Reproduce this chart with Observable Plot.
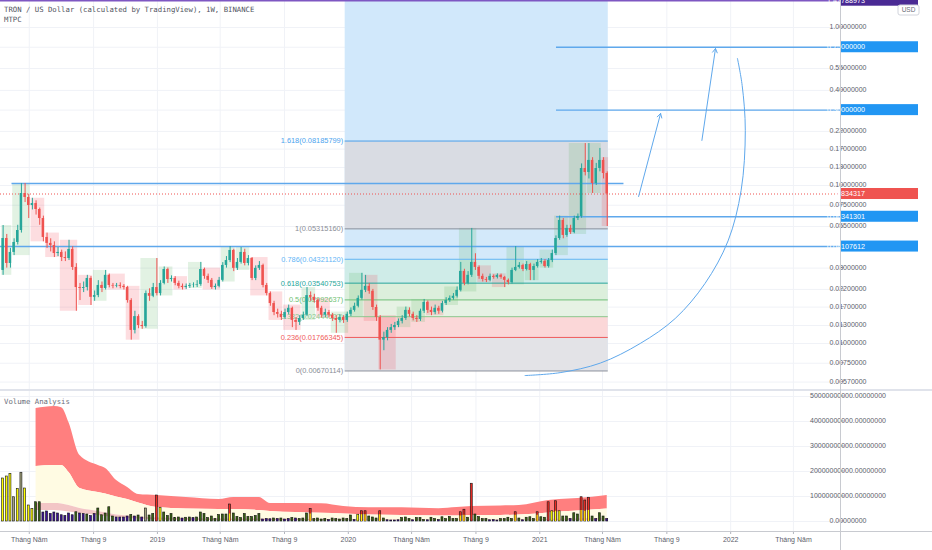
<!DOCTYPE html>
<html><head><meta charset="utf-8">
<script src="https://cdn.jsdelivr.net/npm/d3@7"></script>
<script src="https://cdn.jsdelivr.net/npm/@observablehq/plot@0.6"></script>
<style>
body{margin:0;background:#fff;}
#wrap{position:relative;width:932px;height:550px;overflow:hidden;background:#fff;}
.pane{position:absolute;left:0;}
.lbl{position:absolute;left:4px;font-family:"DejaVu Sans Mono",monospace;font-size:7.3px;color:#50535e;white-space:nowrap;line-height:9px;z-index:5;}
.line{position:absolute;background:#c8cad0;z-index:4;}
</style></head><body>
<div id="wrap">
  <div id="price" class="pane" style="top:0"></div>
  <div id="vol" class="pane" style="top:390px"></div>
  <div class="line" style="left:0;top:389px;width:932px;height:2px;background:#e0e3eb"></div>
  <div class="line" style="left:840px;top:0;width:1px;height:550px"></div>
  <div class="line" style="left:0;top:531px;width:932px;height:1px"></div>
  <div class="lbl" style="top:5px">TRON / US Dollar (calculated by TradingView), 1W, BINANCE</div>
  <div class="lbl" style="top:15px">MTPC</div>
  <div class="lbl" style="top:397px;color:#6a6d78">Volume Analysis</div>
</div>
<script>
// ---------- data ----------
const firstWeek = "2018-03-12";
const firstOpen = 0.0290;
const closes = [
0.0462,0.0321,0.0377,0.0436,0.0519,0.0890,0.0840,0.0747,0.0769,0.0705,
0.0618,0.0469,0.0430,0.0417,0.0371,0.0377,0.0350,0.0345,0.0394,0.0303,
0.0226,0.0223,0.0226,0.0258,0.0196,0.0201,0.0233,0.0223,0.0270,0.0233,
0.0231,0.0233,0.0230,0.0226,0.0187,0.0121,0.0148,0.0130,0.0128,0.0207,
0.0199,0.0226,0.0207,0.0240,0.0294,0.0254,0.0258,0.0240,0.0230,0.0226,
0.0230,0.0233,0.0234,0.0236,0.0294,0.0266,0.0251,0.0226,0.0230,0.0251,
0.0312,0.0335,0.0388,0.0299,0.0326,0.0377,0.0321,0.0345,0.0258,0.0299,
0.0312,0.0233,0.0207,0.0179,0.0157,0.0153,0.0146,0.0157,0.0167,0.0140,
0.0136,0.0144,0.0151,0.0201,0.0196,0.0187,0.0167,0.0151,0.0157,0.0151,
0.0144,0.0140,0.0146,0.0140,0.0153,0.0162,0.0172,0.0193,0.0217,0.0230,
0.0214,0.0169,0.0146,0.0105,0.0109,0.0121,0.0126,0.0130,0.0138,0.0144,
0.0162,0.0153,0.0144,0.0142,0.0160,0.0182,0.0162,0.0157,0.0167,0.0160,
0.0179,0.0187,0.0193,0.0199,0.0217,0.0286,0.0240,0.0270,0.0326,0.0303,
0.0266,0.0254,0.0251,0.0266,0.0262,0.0270,0.0262,0.0251,0.0243,0.0290,
0.0303,0.0312,0.0294,0.0316,0.0290,0.0307,0.0326,0.0331,0.0307,0.0335,
0.0371,0.0462,0.0601,0.0483,0.0535,0.0504,0.0618,0.0637,0.1281,0.1209,
0.1441,0.1030,0.1281,0.1441,0.1191,0.08834317];
const highs = [
0.0558,0.0490,0.0400,0.0460,0.0560,0.1030,0.1030,0.0880,0.0830,0.0800,
0.0720,0.0640,0.0500,0.0460,0.0440,0.0405,0.0390,0.0380,0.0450,0.0410,
0.0320,0.0240,0.0245,0.0270,0.0265,0.0215,0.0250,0.0245,0.0290,0.0275,
0.0240,0.0240,0.0242,0.0236,0.0230,0.0192,0.0160,0.0152,0.0138,0.0215,
0.0222,0.0240,0.0345,0.0250,0.0305,0.0300,0.0268,0.0265,0.0248,0.0238,
0.0238,0.0240,0.0242,0.0250,0.0326,0.0300,0.0275,0.0258,0.0238,0.0262,
0.0325,0.0355,0.0411,0.0395,0.0345,0.0405,0.0395,0.0360,0.0350,0.0310,
0.0330,0.0318,0.0240,0.0212,0.0185,0.0165,0.0160,0.0165,0.0175,0.0170,
0.0146,0.0150,0.0158,0.0226,0.0212,0.0205,0.0192,0.0172,0.0165,0.0162,
0.0155,0.0150,0.0152,0.0150,0.0158,0.0168,0.0180,0.0200,0.0278,0.0270,
0.0240,0.0220,0.0175,0.0150,0.0118,0.0126,0.0132,0.0136,0.0143,0.0150,
0.0170,0.0168,0.0158,0.0150,0.0165,0.0190,0.0186,0.0170,0.0175,0.0172,
0.0185,0.0195,0.0200,0.0207,0.0228,0.0326,0.0295,0.0285,0.0535,0.0370,
0.0310,0.0275,0.0262,0.0275,0.0272,0.0276,0.0275,0.0266,0.0256,0.0300,
0.0411,0.0325,0.0318,0.0330,0.0322,0.0318,0.0340,0.0345,0.0340,0.0345,
0.0390,0.0480,0.0640,0.0618,0.0560,0.0560,0.0640,0.0660,0.1370,0.1843,
0.1843,0.1500,0.1380,0.1716,0.1500,0.1220];
const lows = [
0.0270,0.0300,0.0300,0.0360,0.0420,0.0500,0.0780,0.0618,0.0700,0.0650,
0.0560,0.0440,0.0400,0.0380,0.0350,0.0355,0.0330,0.0330,0.0335,0.0290,
0.0160,0.0187,0.0210,0.0215,0.0174,0.0185,0.0195,0.0210,0.0218,0.0225,
0.0222,0.0225,0.0222,0.0218,0.0180,0.0105,0.0115,0.0124,0.0123,0.0125,
0.0185,0.0195,0.0200,0.0200,0.0235,0.0240,0.0245,0.0232,0.0222,0.0218,
0.0220,0.0223,0.0225,0.0226,0.0230,0.0255,0.0240,0.0220,0.0218,0.0225,
0.0245,0.0300,0.0325,0.0285,0.0290,0.0318,0.0310,0.0310,0.0250,0.0250,
0.0290,0.0225,0.0200,0.0172,0.0150,0.0145,0.0140,0.0142,0.0152,0.0126,
0.0121,0.0130,0.0140,0.0148,0.0185,0.0180,0.0160,0.0145,0.0146,0.0145,
0.0138,0.0116,0.0135,0.0134,0.0136,0.0148,0.0158,0.0168,0.0188,0.0210,
0.0205,0.0162,0.0138,0.0068,0.0090,0.0104,0.0116,0.0121,0.0126,0.0133,
0.0140,0.0147,0.0139,0.0136,0.0138,0.0155,0.0155,0.0150,0.0152,0.0153,
0.0156,0.0174,0.0182,0.0188,0.0194,0.0212,0.0232,0.0235,0.0262,0.0290,
0.0255,0.0245,0.0243,0.0246,0.0255,0.0256,0.0255,0.0226,0.0235,0.0238,
0.0285,0.0296,0.0285,0.0288,0.0250,0.0250,0.0300,0.0318,0.0300,0.0300,
0.0325,0.0360,0.0450,0.0460,0.0470,0.0490,0.0495,0.0600,0.0620,0.1150,
0.1100,0.0890,0.1000,0.1220,0.1100,0.0550];
// weekly volume, billions
const volumes = [
17.2,18,19,9.7,13,19.5,13.2,6.4,5,7.7,
7.7,3.6,4.0,3.0,3.6,3.2,2.5,2.2,3.2,2.5,
3.7,3.2,3.0,2.8,2.2,3.0,5.2,2.5,3.2,5.7,
2.0,1.6,1.6,1.6,2.0,2.6,2.0,2.4,1.6,5.2,
2.4,3.0,10.4,5.5,3.6,2.2,3.0,1.4,1.6,1.2,
1.5,1.6,1.4,1.6,3.6,3.0,1.4,2.0,1.0,2.6,
2.8,2.8,6.8,3.2,1.8,1.4,3.0,1.8,1.8,2.2,
3.0,0.8,1.0,0.9,1.2,1.0,1.2,0.8,1.0,1.4,
1.2,1.0,1.2,3.2,5.0,1.0,1.2,0.8,1.0,0.6,
1.2,1.0,0.8,1.2,1.0,2.4,0.6,2.7,4.1,4.1,
2.0,1.6,1.2,4.1,1.2,0.5,0.4,0.4,0.5,1.4,
1.6,1.0,0.5,1.4,1.4,0.6,0.5,1.5,1.0,0.6,
1.7,1.0,1.8,1.0,1.0,3.7,4.7,1.5,15.1,2.8,
1.8,1.0,1.0,0.5,0.6,0.4,1.0,1.0,1.5,1.0,
3.7,1.2,0.5,1.5,1.7,1.0,3.7,1.7,1.5,7.7,
4.1,8.1,4.1,2.0,2.0,1.0,3.3,2.8,9.7,8.4,
9.5,2.0,1.0,3.3,2.0,1.0];
const volClass =
"yyysysyyyg"+"gppppppppp"+"gppgppgggg"+"gppppgpgps"+"ggrygggggp"+
"ggpggggggg"+"ggrggggggg"+"gpppgpgppg"+"pgggrggggp"+"ggggggpyrr"+
"gggrgppppg"+"ggpgggpggp"+"gggggrrgrg"+"gggpppgggg"+"rgpgggrggr"+
"yryggpggrr"+"rgpggp";
const redInner = {62:3.0,84:3.0,98:2.7,99:2.7,103:2.7,125:2.2,126:2.5,140:2.5,146:2.5,151:4.1,158:4.4,159:4.1,160:4.4};
// volume analysis bands (week index -> billions)
const bandIdx  = [9,14,16,18,21,26,28,31,34,37,42,50,59,63,70,73,87,93,100,109,119,124,128,136,141,149,152,157,165];
const bandTop  = [45.2,46,45.5,39.5,26.4,22.4,21.2,16.4,13.6,10.8,10.4,9.6,8.8,9.6,9.6,7.2,7.1,6.0,5.5,5.5,5.1,5.6,6.0,6.2,6.4,8.4,8.8,9.2,10.4];
const bandMid  = [22,22.4,22.4,19.6,13.2,11.6,11.0,9.8,8.8,7.4,5.6,5.0,4.8,4.8,4.4,4.0,3.3,3.0,2.6,2.4,2.2,2.2,2.4,2.4,2.6,3.4,3.8,4.2,5.0];
const bandLow  = [7.2,7.2,7.0,6.4,5.2,4.0,3.4,2.6,2.2,1.8,1.4,1.2,1.0,1.0,1.0,0.9,0.8,0.7,0.6,0.6,0.5,0.5,0.6,0.6,0.6,0.8,0.9,1.0,1.1];
const bandBase = [4.4,4.4,4.2,3.8,3.2,2.4,2.0,1.6,1.2,1.0,0.6,0.5,0.4,0.4,0.4,0.4,0.4,0.4,0.4,0.4,0.4,0.4,0.4,0.4,0.4,0.5,0.5,0.5,0.6];

const yTicks = [1, 0.75, 0.55, 0.4, 0.3, 0.22, 0.17, 0.13, 0.1, 0.075, 0.055, 0.03, 0.022, 0.017, 0.013, 0.01, 0.0075, 0.0057];
const yHidden = [0.75, 0.3]; // covered by value boxes
const volTicks = [0, 1e10, 2e10, 3e10, 4e10, 5e10];
const xTickDates = ["2018-05-01","2018-09-01","2019-01-01","2019-05-01","2019-09-01","2020-01-01","2020-05-01","2020-09-01","2021-01-01","2021-05-01","2021-09-01","2022-01-01","2022-05-01"];
const xTickLabels = ["Tháng Năm","Tháng 9","2019","Tháng Năm","Tháng 9","2020","Tháng Năm","Tháng 9","2021","Tháng Năm","Tháng 9","2022","Tháng Năm"];

const fibStart = "2019-12-26", fibEnd = "2021-05-12";
const fib0 = 0.00670114, fib1 = 0.05315160;
const fibRatios = [0, 0.236, 0.382, 0.5, 0.618, 0.786, 1, 1.618];
const fibTexts = ["0(0.00670114)","0.236(0.01766345)","0.382(0.02444522)","0.5(0.02992637)","0.618(0.03540753)","0.786(0.04321120)","1(0.05315160)","1.618(0.08185799)"];
const fibColors = ["#8a8d96","#f05a5a","#8cc98e","#6fbf73","#26a69a","#64b5f6","#8a8d96","#4ba3ee"];
const fibFills = ["#e3e3e7","#fbd7d8","#e6f2e4","#dcefdc","#cfece8","#d3e9fa","#d9dce3"];
const rangeTop = 1.4779;

const hLines = [
  {v:0.1030, x1:"2018-03-29", x2:"2021-06-11"},
  {v:0.75, x1:"2021-02-02", x2:null},
  {v:0.30, x1:"2021-02-02", x2:null},
  {v:0.06341301, x1:"2021-02-02", x2:null},
  {v:0.04107612, x1:null, x2:null}
];
const priceBoxes = [
  {v:1.47788973, t:"1.47788973", c:"#4a2a94"},
  {v:0.75, t:"0.75000000", c:"#2196f3"},
  {v:0.30, t:"0.30000000", c:"#2196f3"},
  {v:0.08834317, t:"0.08834317", c:"#ef5350"},
  {v:0.06341301, t:"0.06341301", c:"#2196f3"},
  {v:0.04107612, t:"0.04107612", c:"#2196f3"}
];
const arrows = [
  {x1:"2021-07-09", y1:0.0852, x2:"2021-08-20", y2:0.2855},
  {x1:"2021-11-07", y1:0.1929, x2:"2021-12-03", y2:0.7364}
];
const arcDates = ["2020-12-04","2021-02-09","2021-04-27","2021-07-12","2021-09-17","2021-11-13","2021-12-27","2022-01-21","2022-01-29","2022-01-23","2022-01-14"];
const arcPrices = [0.00627,0.00654,0.00752,0.0100,0.0144,0.0240,0.0446,0.0930,0.2230,0.4297,0.6365];

// ---------- build ----------
const D = s => new Date(s + "T00:00:00Z");
const DAY = 864e5;
const xDomain = [D("2018-03-07"), D("2022-07-30")];
const t0 = +D(firstWeek);
const GREEN = "#26a69a", RED = "#ef5350";
const FONT = "'Liberation Sans', Arial, sans-serif";
const candles = closes.map((c, i) => {
  const o = i ? closes[i-1] : firstOpen;
  return {date: new Date(t0 + i*7*DAY), open: o, close: c,
          high: Math.max(highs[i], o, c), low: Math.min(lows[i], o, c)};
});
const hw = 2.4*DAY;
const months = d3.groups(candles, d => +d3.utcMonth(d.date)).map(([k, a]) => ({
  x1: +a[0].date - 2.6*DAY, x2: +a[a.length-1].date + 2.6*DAY,
  hi: d3.max(a, d => d.high), lo: d3.min(a, d => d.low),
  up: a[a.length-1].close >= a[0].open
}));
const fibPrice = r => fib0 * Math.pow(fib1/fib0, r);
const fibLv = fibRatios.map((r, i) => ({r, p: fibPrice(r), text: fibTexts[i], color: fibColors[i]}));
const fibBands = fibFills.map((f, i) => ({lo: fibLv[i].p, hi: fibLv[i+1].p, fill: f}));
const grid = "#f0f2f7";
const style = {fontFamily: FONT, fontSize: "7px", background: "transparent", overflow: "visible", color: "#5d606b"};

function rightAxis(plot, ticks, fmt) {
  const ys = plot.scale("y");
  const g = d3.select(plot).append("g");
  for (const t of ticks) {
    const y = ys.apply(t);
    g.append("line").attr("x1", 840).attr("x2", 844).attr("y1", y).attr("y2", y).attr("stroke", "#b2b5be");
    g.append("text").attr("x", 848).attr("y", y).attr("dy", "0.35em").attr("fill", "#5d606b")
      .attr("font-size", 7).attr("font-family", FONT).text(fmt(t));
  }
}

const price = Plot.plot({
  width: 932, height: 390, marginLeft: 0, marginRight: 92, marginTop: 0, marginBottom: 0,
  style,
  x: {type: "utc", domain: xDomain, axis: null},
  y: {type: "log", domain: [0.005041, 1.4823], axis: null},
  marks: [
    Plot.ruleY(yTicks, {stroke: grid}),
    Plot.ruleX(xTickDates.map(D), {stroke: grid}),
    Plot.rect([{}], {x1: () => D(fibStart), x2: () => D(fibEnd), y1: () => fib0, y2: () => rangeTop, fill: "#d1e8fb"}),
    Plot.rect(fibBands, {x1: () => D(fibStart), x2: () => D(fibEnd), y1: "lo", y2: "hi", fill: "fill"}),
    Plot.rect(months, {x1: "x1", x2: "x2", y1: "lo", y2: "hi", fill: d => d.up ? "rgba(76,175,80,0.16)" : "rgba(242,54,69,0.17)"}),
    Plot.ruleY(fibLv, {y: "p", x1: () => D(fibStart), x2: () => D(fibEnd), stroke: "color", strokeWidth: 1}),
    Plot.text(fibLv, {y: "p", x: () => D(fibStart), text: "text", fill: "color", textAnchor: "end", dx: -2, fontSize: 7.4}),
    Plot.ruleY([rangeTop], {stroke: "#7e57c2", strokeWidth: 1.5}),
    Plot.ruleY([0.08834317], {stroke: "#ef5350", strokeDasharray: "1,2", strokeWidth: 1}),
    Plot.ruleY(hLines, {y: "v", x1: d => d.x1 ? D(d.x1) : xDomain[0], x2: d => d.x2 ? D(d.x2) : xDomain[1], stroke: "#5fa8ec", strokeWidth: 1.4}),
    Plot.ruleX(candles, {x: "date", y1: "low", y2: "high", stroke: d => d.close >= d.open ? GREEN : RED, strokeWidth: 1}),
    Plot.rect(candles, {x1: d => +d.date - hw, x2: d => +d.date + hw, y1: "open", y2: "close", fill: d => d.close >= d.open ? GREEN : RED}),
    Plot.arrow(arrows, {x1: d => D(d.x1), y1: "y1", x2: d => D(d.x2), y2: "y2", stroke: "#5fa8ec", strokeWidth: 1, headLength: 7, insetEnd: 0, insetStart: 0}),
    Plot.line(arcDates.map((d, i) => ({d: D(d), p: arcPrices[i]})), {x: "d", y: "p", curve: "catmull-rom", stroke: "#5fa8ec", strokeWidth: 1})
  ]
});
document.getElementById("price").append(price);
rightAxis(price, yTicks.filter(t => !yHidden.includes(t)), d => d.toFixed(8));

// value boxes on the price axis
{
  const ys = price.scale("y");
  const svg = d3.select(price);
  for (const b of priceBoxes) {
    const y = ys.apply(b.v);
    svg.append("rect").attr("x", 841).attr("y", y - 5.5).attr("width", 77).attr("height", 11).attr("fill", b.c);
    svg.append("text").attr("x", 846).attr("y", y).attr("dy", "0.35em").attr("fill", "#fff")
      .attr("font-size", 7.2).attr("font-family", FONT).text(b.t);
  }
  const g = svg.append("g");
  g.append("rect").attr("x", 898).attr("y", 5).attr("width", 21).attr("height", 10).attr("rx", 2)
    .attr("fill", "#fff").attr("stroke", "#d1d4dc");
  g.append("text").attr("x", 908.5).attr("y", 10).attr("dy", "0.35em").attr("text-anchor", "middle")
    .attr("fill", "#6a6d78").attr("font-size", 6.5).attr("font-family", FONT).text("USD");
}

// ---------- volume pane ----------
const volColors = {y: "#ffff00", r: "#ee2b24", g: "#38650f", p: "#3a0f99", s: "#a3a37e"};
const vData = volumes.map((v, i) => ({date: candles[i].date, v: v*1e9, c: volColors[volClass[i]]}));
const innerData = Object.entries(redInner).map(([i, v]) => ({date: candles[+i].date, v: v*1e9}));
const bands = bandIdx.map((k, i) => ({date: candles[k].date, top: bandTop[i]*1e9, mid: bandMid[i]*1e9, low: bandLow[i]*1e9, base: bandBase[i]*1e9}));
const labelMap = new Map(xTickDates.map((d, i) => [+D(d), xTickLabels[i]]));
const bw = 1.9*DAY;

const vol = Plot.plot({
  width: 932, height: 160, marginLeft: 0, marginRight: 92, marginTop: 1, marginBottom: 19,
  style,
  x: {type: "utc", domain: xDomain, axis: null},
  y: {domain: [-4e9, 5.2e10], axis: null},
  marks: [
    Plot.ruleY(volTicks, {stroke: grid}),
    Plot.ruleX(xTickDates.map(D), {stroke: grid}),
    Plot.areaY(bands, {x: "date", y1: "mid", y2: "top", fill: "#ff7f7f", curve: "monotone-x"}),
    Plot.areaY(bands, {x: "date", y1: "low", y2: "mid", fill: "#fffbe3", curve: "monotone-x"}),
    Plot.areaY(bands, {x: "date", y1: "base", y2: "low", fill: "#f3c6c6", curve: "monotone-x"}),
    Plot.rect(vData, {x1: d => +d.date - bw, x2: d => +d.date + bw, y1: 0, y2: "v", fill: "c", stroke: "#111", strokeWidth: 0.6}),
    Plot.rect(innerData, {x1: d => +d.date - bw*0.55, x2: d => +d.date + bw*0.55, y1: 0, y2: "v", fill: "#ffff00"}),
    Plot.axisX(xTickDates.map(D), {anchor: "bottom", tickSize: 3, tickPadding: 3, tickFormat: d => labelMap.get(+d), stroke: "#b2b5be", fill: "#5d606b"})
  ]
});
document.getElementById("vol").append(vol);
rightAxis(vol, volTicks, d => d.toFixed(8));
</script>
</body></html>
